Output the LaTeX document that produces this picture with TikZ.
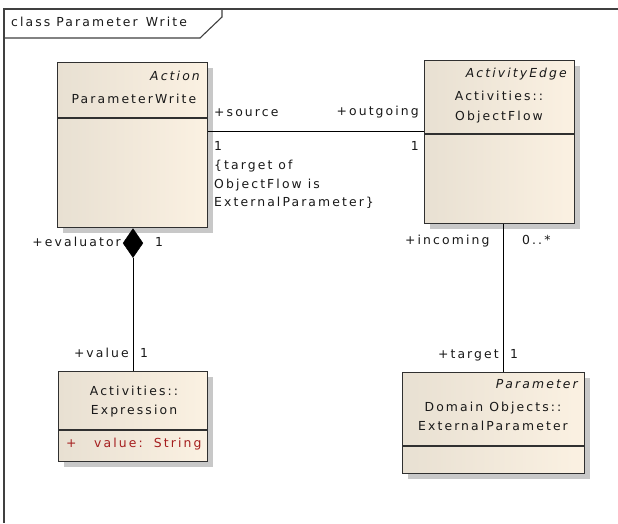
\documentclass[tikz,border=0pt]{standalone}
\usepackage{fontspec}
\setmainfont{DejaVu Sans}[LetterSpace=17]
\usetikzlibrary{shapes.geometric,shadows}
\definecolor{boxL}{RGB}{232,224,210}
\definecolor{boxR}{RGB}{251,241,226}
\definecolor{edge}{RGB}{48,48,48}
\definecolor{attr}{RGB}{165,30,30}
\definecolor{shad}{RGB}{200,200,200}
\begin{document}
\begin{tikzpicture}[x=1pt,y=-1pt,
  txt/.style={inner sep=0pt, text=black!90, font=\fontsize{12.4}{18.5}\selectfont},
  itx/.style={txt, font=\fontsize{12.4}{18.5}\selectfont\itshape},
  umlbox/.style={draw=edge, line width=1.4pt, rectangle, inner sep=0pt, anchor=north west,
    left color=boxL, right color=boxR,
    drop shadow={shadow xshift=5pt, shadow yshift=-5pt, fill=shad, opacity=1}},
  sepline/.style={draw=edge, line width=1.2pt},
  conn/.style={draw=black, line width=0.9pt},
  framel/.style={draw=black!75, line width=1.1pt}]
\useasboundingbox (0,0) rectangle (618,523);
\fill[white] (0,0) rectangle (618,523);
% frame
\coordinate (ftl) at (4,9);
\coordinate (ftr) at (618,9);
\coordinate (fbl) at (4,523);
\draw[framel] (ftr) -- (ftl) -- (fbl);
\draw[framel] (4,38) -- (200,38) -- (222,17) -- (222,9);
\node[txt, anchor=mid west] (title) at (11,24) {class Parameter\hspace{2pt} Write};

% boxes
\node[umlbox, minimum width=150pt, minimum height=165pt] (pw) at (57,62) {};
\node[umlbox, minimum width=150pt, minimum height=163pt] (of) at (424,60) {};
\node[umlbox, minimum width=149pt, minimum height=90pt] (ex) at (58,371) {};
\node[umlbox, minimum width=182pt, minimum height=101pt] (pa) at (402,372) {};

\draw[sepline] (pw.west |- 0,118) -- (pw.east |- 0,118);
\draw[sepline] (of.west |- 0,134) -- (of.east |- 0,134);
\draw[sepline] (ex.west |- 0,430) -- (ex.east |- 0,430);
\draw[sepline] (pa.west |- 0,446) -- (pa.east |- 0,446);

% box texts
\node[itx, anchor=mid east] (pwst) at (200,78) {Action};
\node[txt, anchor=mid] (pwn) at (134,101) {ParameterWrite};
\node[itx, anchor=mid east] (ofst) at (567,75) {ActivityEdge};
\node[txt, anchor=mid] (ofn1) at (499,98) {Activities::};
\node[txt, anchor=mid] (ofn2) at (499,118) {ObjectFlow};
\node[txt, anchor=mid] (exn1) at (134,393) {Activities::};
\node[txt, anchor=mid] (exn2) at (134,412) {Expression};
\node[txt, anchor=mid west, text=attr] (exa1) at (66,445) {+};
\node[txt, anchor=mid west, text=attr] (exa2) at (94,445) {value:\hspace{3pt} String};
\node[itx, anchor=mid east] (past) at (578,386) {Parameter};
\node[txt, anchor=mid] (pan1) at (493,409) {Domain Objects::};
\node[txt, anchor=mid] (pan2) at (493,428) {ExternalParameter};

% association ParameterWrite -- ObjectFlow
\draw[conn] (pw.east |- 0,131) -- (of.west |- 0,131);
\node[txt, anchor=mid west] (l1) at (214,114) {+source};
\node[txt, anchor=mid east] (l2) at (419,113) {+outgoing};
\node[txt, anchor=mid west] (l3) at (214,148) {1};
\node[txt, anchor=mid east] (l4) at (419,148) {1};
\node[txt, anchor=north west, align=left] (l5) at (214,160) {\{target of\\ObjectFlow is\\ExternalParameter\}};

% composition
\node[draw=black, fill=black, diamond, inner sep=0pt, minimum width=20pt, minimum height=29pt, anchor=north] (dm) at (pw.south -| 133,0) {};
\draw[conn] (dm.south) -- (ex.north -| dm.south);
\node[txt, anchor=mid east] (c1) at (121,244) {+evaluator};
\node[txt, anchor=mid west] (c2) at (155,244) {1};
\node[txt, anchor=mid east] (c3) at (129,355) {+value};
\node[txt, anchor=mid west] (c4) at (140,355) {1};

% ObjectFlow -- Parameter
\draw[conn] (of.south -| 503,0) -- (pa.north -| 503,0);
\node[txt, anchor=mid west] (d1) at (405,242) {+incoming};
\node[txt, anchor=mid west] (d2) at (522,242) {0..*};
\node[txt, anchor=mid east] (d3) at (499,356) {+target};
\node[txt, anchor=mid west] (d4) at (510,356) {1};
\end{tikzpicture}
\end{document}
